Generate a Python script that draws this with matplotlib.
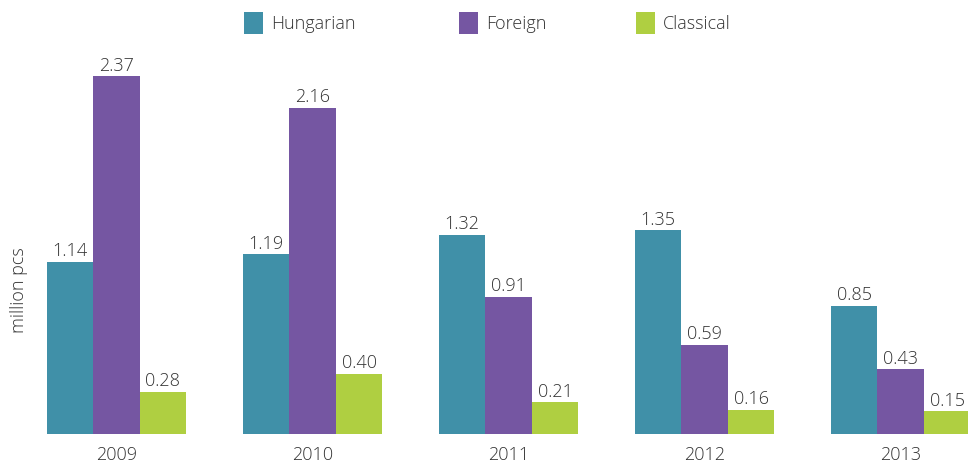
import matplotlib
matplotlib.use("Agg")
import matplotlib.pyplot as plt
import numpy as np
from matplotlib.patches import Rectangle

years = ["2009", "2010", "2011", "2012", "2013"]
series_names = ["Hungarian", "Foreign", "Classical"]
hungarian = [1.14, 1.19, 1.32, 1.35, 0.85]
foreign = [2.37, 2.16, 0.91, 0.59, 0.43]
classical = [0.28, 0.40, 0.21, 0.16, 0.15]
colors = ["#4090A8", "#7556A2", "#AFCF41"]

plt.rcParams['font.family'] = ['Open Sans', 'DejaVu Sans']
txt = "#333333"
W, H = 968, 468

fig = plt.figure(figsize=(W/100, H/100), dpi=100)
ax = fig.add_axes([0, 34/H, 1, 434/H])

x = np.arange(len(years))
w = 46.5/196
for i, (vals, c) in enumerate(zip([hungarian, foreign, classical], colors)):
    bars = ax.bar(x + (i-1)*w, vals, width=w, color=c, linewidth=0)
    for b, v in zip(bars, vals):
        ax.annotate(f"{v:.2f}", (b.get_x()+b.get_width()/2, v), xytext=(0, 4),
                    textcoords="offset points", ha="center", va="baseline",
                    fontsize=13, color=txt, fontweight="light")

ax.set_xlim(-116.5/196, (W-116.5)/196)
ax.set_ylim(0, 434/151)
for s in ax.spines.values():
    s.set_visible(False)
ax.set_yticks([])
ax.set_xticks(x)
ax.set_xticklabels(years, fontsize=13, color=txt, fontweight="light")
ax.tick_params(axis='x', length=0, pad=9)

fig.text(19/W, 1-290/H, "million pcs", rotation=90, ha="center", va="center",
         fontsize=13, color=txt, fontweight="light")

# legend
marker_x = [244, 459, 636]
for mx, name, c in zip(marker_x, series_names, colors):
    fig.add_artist(Rectangle((mx/W, 1-34/H), 19/W, 22/H, transform=fig.transFigure,
                             facecolor=c, edgecolor='none'))
    fig.text((mx+27)/W, 1-24/H, name, ha="left", va="center", fontsize=13,
             color=txt, fontweight="light")

fig.savefig("out.png", dpi=100)
